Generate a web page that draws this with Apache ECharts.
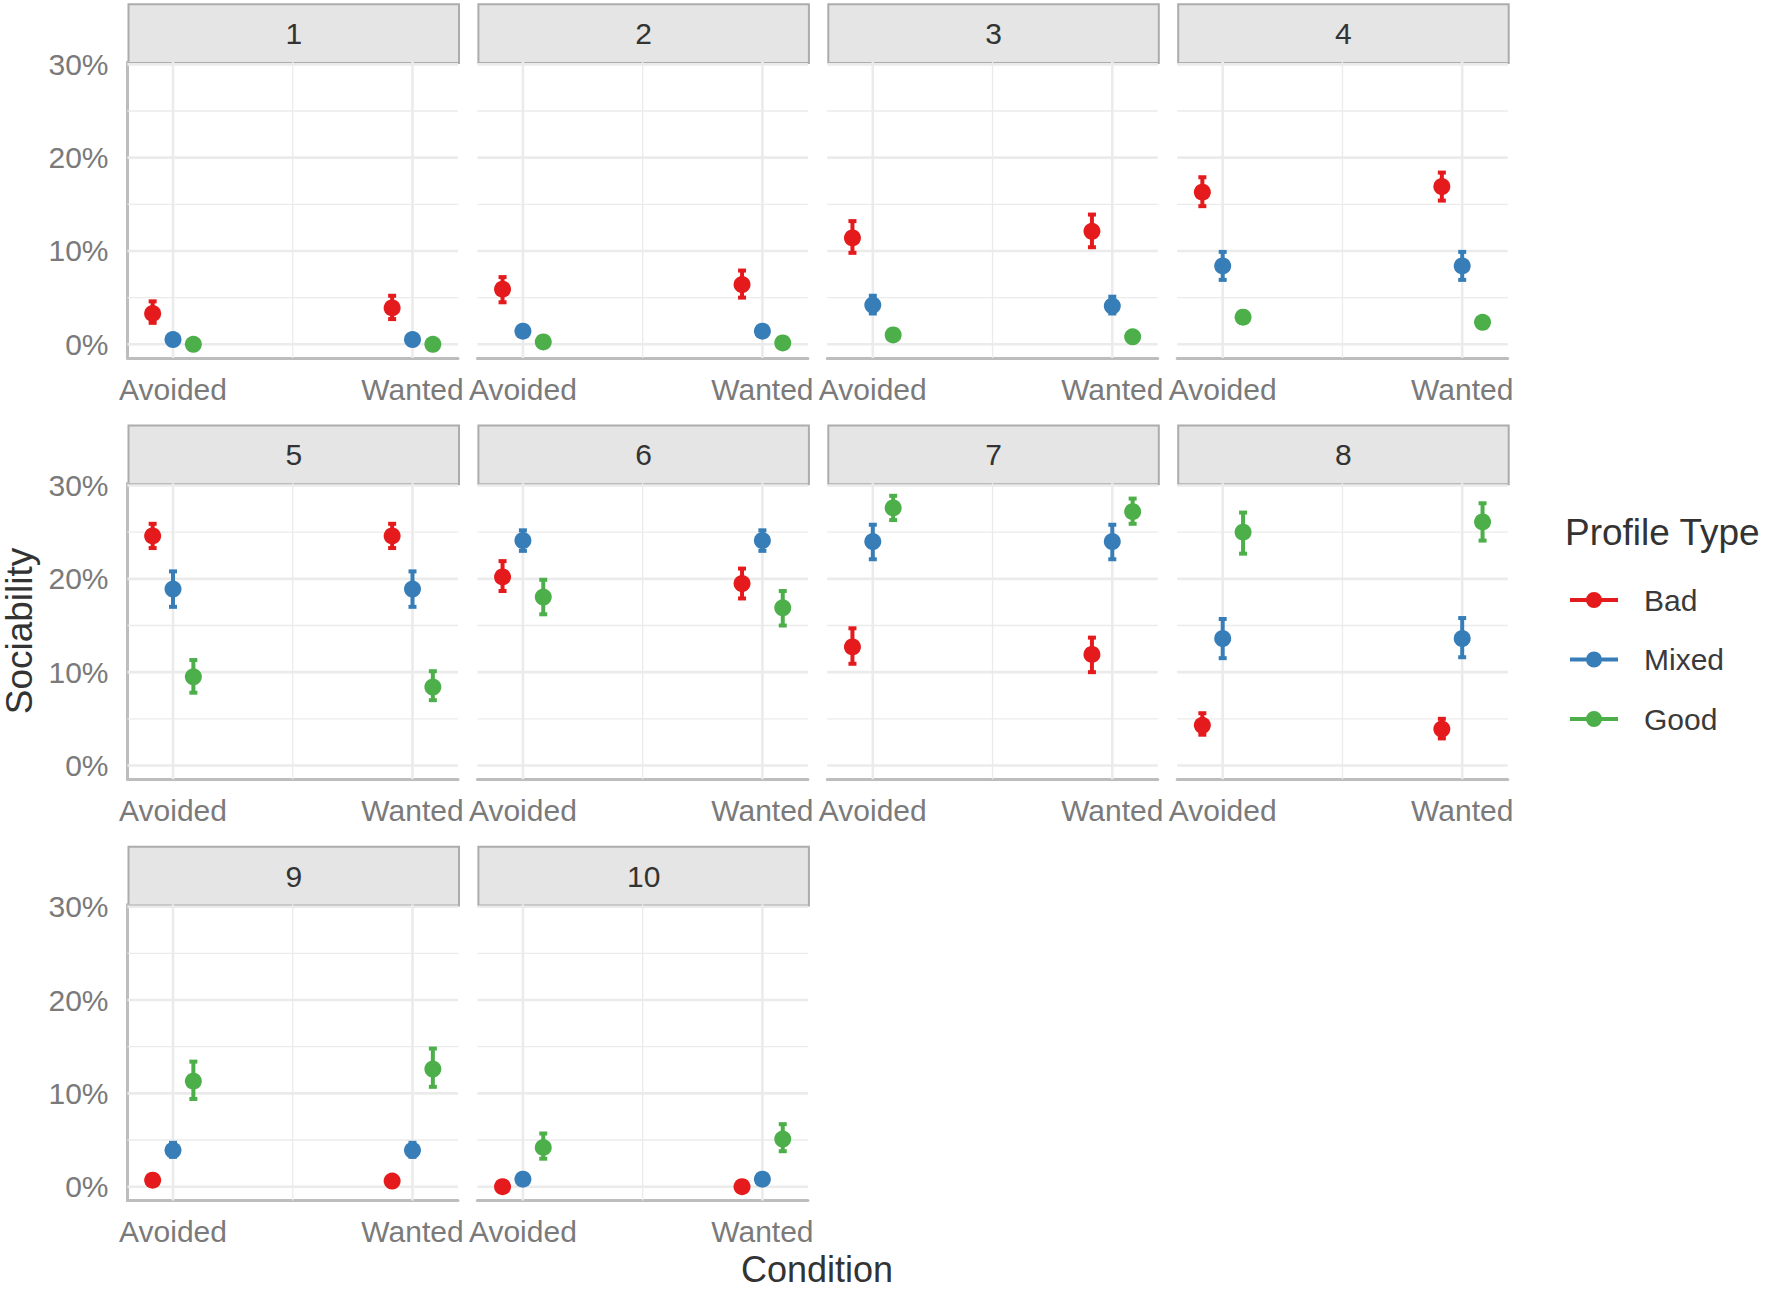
<!DOCTYPE html>
<html>
<head>
<meta charset="utf-8">
<title>Sociability by condition</title>
<script src="https://cdn.jsdelivr.net/npm/echarts@6/dist/echarts.min.js"></script>
<style>
  html, body { margin: 0; padding: 0; background: #fff; }
  #chart { width: 1772px; height: 1289px; }
</style>
</head>
<body>
<div id="chart"></div>
<script>
// categories
const conditions = ['Avoided', 'Wanted'];
const profiles = ['Bad', 'Mixed', 'Good'];
const panelLabels = ['1', '2', '3', '4', '5', '6', '7', '8', '9', '10'];
const yTicks = [0, 10, 20, 30];

// sociability in %, one [Avoided, Wanted] pair per panel
const badMean = [[3.3, 3.9], [5.9, 6.4], [11.4, 12.1], [16.3, 16.9], [24.6, 24.6],
  [20.2, 19.5], [12.7, 11.9], [4.3, 3.9], [0.7, 0.6], [0.0, 0.0]];
const badLow = [[2.3, 2.7], [4.5, 5.0], [9.8, 10.4], [14.8, 15.4], [23.3, 23.3],
  [18.7, 17.9], [10.9, 10.0], [3.3, 2.9], [0.4, 0.3], [0.0, 0.0]];
const badHigh = [[4.6, 5.2], [7.2, 7.9], [13.2, 13.9], [17.9, 18.4], [25.9, 25.9],
  [21.9, 21.1], [14.7, 13.7], [5.6, 5.0], [1.0, 0.9], [0.2, 0.2]];

const mixedMean = [[0.5, 0.5], [1.4, 1.4], [4.2, 4.1], [8.4, 8.4], [18.9, 18.9],
  [24.1, 24.1], [24.0, 24.0], [13.6, 13.6], [3.9, 3.9], [0.8, 0.8]];
const mixedLow = [[0.3, 0.3], [1.0, 1.0], [3.3, 3.3], [6.9, 6.9], [17.0, 17.0],
  [23.0, 23.0], [22.1, 22.1], [11.5, 11.6], [3.2, 3.2], [0.6, 0.6]];
const mixedHigh = [[0.8, 0.8], [1.9, 1.9], [5.2, 5.1], [9.9, 9.9], [20.8, 20.8],
  [25.2, 25.2], [25.8, 25.8], [15.7, 15.8], [4.7, 4.7], [1.1, 1.1]];

const goodMean = [[0.0, 0.0], [0.25, 0.15], [1.0, 0.8], [2.9, 2.35], [9.5, 8.4],
  [18.05, 16.9], [27.6, 27.2], [25.0, 26.1], [11.3, 12.6], [4.2, 5.1]];
const goodLow = [[0.0, 0.0], [0.1, 0.05], [0.6, 0.5], [2.3, 1.8], [7.8, 7.0],
  [16.2, 15.0], [26.3, 25.9], [22.7, 24.1], [9.4, 10.7], [3.0, 3.8]];
const goodHigh = [[0.2, 0.2], [0.45, 0.3], [1.4, 1.2], [3.5, 2.9], [11.3, 10.1],
  [19.9, 18.7], [28.9, 28.6], [27.1, 28.1], [13.4, 14.8], [5.7, 6.7]];

const means = [badMean, mixedMean, goodMean];
const lows = [badLow, mixedLow, goodLow];
const highs = [badHigh, mixedHigh, goodHigh];

// look
const colors = ['#e41a1c', '#377eb8', '#4daf4a'];
const FONT = '"Liberation Sans", Arial, sans-serif';
const COLS = 4;
const PANEL_LEFT = 127.5;
const COL_STEP = 349.9;
const PANEL_W = 330.5;
const PLOT_TOP = 62;
const PLOT_H = 296;
const ROW_STEP = 421.2;
const STRIP_H = 58.7;
const DODGE = 0.085;
const X_MIN = 0.81, X_MAX = 2.19;
const Y_MIN = -1.47, Y_MAX = 30.25;
const LEGEND_ICON = 'path://M0,6 L48,6 L48,10 L0,10 Z M16,8 A8,8 0 1,1 32,8 A8,8 0 1,1 16,8 Z';

const chart = echarts.init(document.getElementById('chart'), null, { renderer: 'svg' });

// gridlines: [orientation (0 horizontal, 1 vertical), value, major]
const gridLines = [
  [0, 0, 1], [0, 10, 1], [0, 20, 1], [0, 30, 1],
  [0, 5, 0], [0, 15, 0], [0, 25, 0],
  [1, 1, 1], [1, 2, 1], [1, 1.5, 0]
];

function renderGridLine(params, api) {
  const cs = params.coordSys;
  const style = { stroke: '#ebebeb', lineWidth: api.value(2) ? 2.6 : 1.3 };
  if (api.value(0) === 0) {
    const y = api.coord([1.5, api.value(1)])[1];
    return { type: 'line', shape: { x1: cs.x, y1: y, x2: cs.x + cs.width, y2: y }, style };
  }
  const x = api.coord([api.value(1), 0])[0];
  return { type: 'line', shape: { x1: x, y1: cs.y, x2: x, y2: cs.y + cs.height }, style };
}

function renderErrorBar(params, api) {
  const x = api.value(0);
  const lo = api.coord([x, api.value(1)]);
  const hi = api.coord([x, api.value(2)]);
  const style = { stroke: api.visual('color'), lineWidth: 4 };
  return {
    type: 'group',
    children: [
      { type: 'line', shape: { x1: lo[0], y1: lo[1], x2: hi[0], y2: hi[1] }, style },
      { type: 'line', shape: { x1: lo[0] - 4, y1: lo[1], x2: lo[0] + 4, y2: lo[1] }, style },
      { type: 'line', shape: { x1: hi[0] - 4, y1: hi[1], x2: hi[0] + 4, y2: hi[1] }, style }
    ]
  };
}

const grids = [];
const xAxes = [];
const yAxes = [];
const series = [];
const graphics = [];

panelLabels.forEach((label, i) => {
  const col = i % COLS;
  const row = Math.floor(i / COLS);
  const left = PANEL_LEFT + col * COL_STEP;
  const top = PLOT_TOP + row * ROW_STEP;

  grids.push({ left, top, width: PANEL_W, height: PLOT_H });

  xAxes.push({
    type: 'value', gridIndex: i, min: X_MIN, max: X_MAX,
    axisLine: { show: true, onZero: false, lineStyle: { color: '#bdbdbd', width: 3 } },
    axisTick: { show: false },
    splitLine: { show: false },
    axisLabel: {
      customValues: [1, 2],
      formatter: v => conditions[Math.round(v) - 1],
      fontFamily: FONT, fontSize: 30, color: '#7a7a7a', margin: 16
    }
  });

  yAxes.push({
    type: 'value', gridIndex: i, min: Y_MIN, max: Y_MAX,
    axisLine: { show: col === 0, onZero: false, lineStyle: { color: '#bdbdbd', width: 3 } },
    axisTick: { show: false },
    splitLine: { show: false },
    axisLabel: {
      show: col === 0,
      customValues: yTicks,
      formatter: v => v + '%',
      fontFamily: FONT, fontSize: 30, color: '#7a7a7a', margin: 19
    }
  });

  series.push({
    type: 'custom', xAxisIndex: i, yAxisIndex: i, z: 1, silent: true, clip: false,
    renderItem: renderGridLine, data: gridLines
  });

  profiles.forEach((name, k) => {
    const offset = (k - 1) * DODGE;
    series.push({
      type: 'scatter', name, xAxisIndex: i, yAxisIndex: i, z: 3,
      symbolSize: 17,
      itemStyle: { color: colors[k], opacity: 1 },
      data: conditions.map((c, j) => [j + 1 + offset, means[k][i][j]])
    });
    series.push({
      type: 'custom', name, xAxisIndex: i, yAxisIndex: i, z: 2,
      itemStyle: { color: colors[k] },
      renderItem: renderErrorBar,
      encode: { x: 0, y: [1, 2] },
      data: conditions.map((c, j) => [j + 1 + offset, lows[k][i][j], highs[k][i][j]])
    });
  });

  // facet strip
  graphics.push({
    type: 'group', left: left, top: 3.3 + row * ROW_STEP,
    children: [
      { type: 'rect', shape: { x: 0, y: 0, width: PANEL_W, height: STRIP_H },
        style: { fill: '#e5e5e5', stroke: '#acacac', lineWidth: 2 } },
      { type: 'text', style: { x: PANEL_W / 2, y: STRIP_H / 2, text: label,
        align: 'center', verticalAlign: 'middle', font: '30px ' + FONT, fill: '#333' } }
    ]
  });
});

graphics.push(
  { type: 'text', x: 817, y: 1269,
    style: { text: 'Condition', align: 'center', verticalAlign: 'middle',
      font: '36px ' + FONT, fill: '#333' } },
  { type: 'text', x: 19, y: 631, rotation: Math.PI / 2,
    style: { text: 'Sociability', align: 'center', verticalAlign: 'middle',
      font: '37px ' + FONT, fill: '#333' } },
  { type: 'text', x: 1565, y: 532,
    style: { text: 'Profile Type', align: 'left', verticalAlign: 'middle',
      font: '37px ' + FONT, fill: '#333' } }
);

chart.setOption({
  animation: false,
  backgroundColor: '#fff',
  grid: grids,
  xAxis: xAxes,
  yAxis: yAxes,
  legend: {
    orient: 'vertical', left: 1570, top: 585, padding: 0,
    itemWidth: 48, itemHeight: 16, itemGap: 29.5,
    selectedMode: false,
    textStyle: { fontFamily: FONT, fontSize: 30, color: '#3a3a3a', padding: [0, 0, 0, 21] },
    data: profiles.map(name => ({ name, icon: LEGEND_ICON }))
  },
  graphic: graphics,
  series
});
</script>
</body>
</html>
